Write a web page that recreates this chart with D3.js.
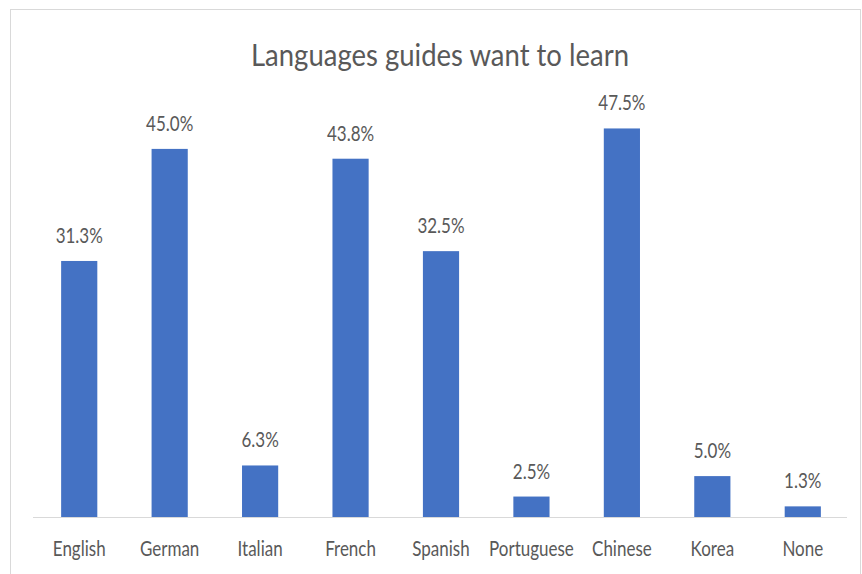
<!DOCTYPE html>
<html>
<head>
<meta charset="utf-8">
<script src="https://cdn.jsdelivr.net/npm/d3@7"></script>
<style>
  body { margin: 0; background: #fff; }
  text { font-family: Lato, "Open Sans", sans-serif; fill: #595959; }
</style>
</head>
<body>
<svg id="chart"></svg>
<script>
const languages = ['English', 'German', 'Italian', 'French', 'Spanish', 'Portuguese', 'Chinese', 'Korea', 'None'];
const shares = [31.3, 45.0, 6.3, 43.8, 32.5, 2.5, 47.5, 5.0, 1.3];
const valueLabels = ['31.3%', '45.0%', '6.3%', '43.8%', '32.5%', '2.5%', '47.5%', '5.0%', '1.3%'];

const W = 862, H = 574;
const data = languages.map((d, i) => ({ name: d, value: shares[i], label: valueLabels[i] }));

const svg = d3.select('#chart')
  .attr('width', W)
  .attr('height', H);

// chart frame
svg.append('rect')
  .attr('x', 10.5).attr('y', 9.5)
  .attr('width', 850).attr('height', 600)
  .attr('fill', '#fff')
  .attr('stroke', '#d9d9d9');

const x = d3.scaleBand()
  .domain(languages)
  .range([34, 848])
  .paddingInner(0.6)
  .paddingOuter(0.3);

const y = d3.scaleLinear()
  .domain([0, 50])
  .range([517, 108]);

// title
svg.append('text')
  .attr('transform', `translate(440, 66) scale(1, 1.15)`)
  .attr('text-anchor', 'middle')
  .style('font-size', '27.5px')
  .text('Languages guides want to learn');

svg.selectAll('.bar')
  .data(data)
  .enter()
  .append('rect')
  .attr('class', 'bar')
  .attr('x', d => x(d.name))
  .attr('y', d => y(d.value))
  .attr('width', x.bandwidth())
  .attr('height', d => y(0) - y(d.value))
  .attr('fill', '#4472c4');

// baseline
svg.append('line')
  .attr('x1', 33).attr('x2', 847)
  .attr('y1', y(0) + 0.5).attr('y2', y(0) + 0.5)
  .attr('stroke', '#d9d9d9');

svg.selectAll('.val')
  .data(data)
  .enter()
  .append('text')
  .attr('class', 'val')
  .attr('transform', d => `translate(${x(d.name) + x.bandwidth() / 2}, ${y(d.value) - 18}) scale(1, 1.2)`)
  .attr('text-anchor', 'middle')
  .style('font-size', '17px')
  .text(d => d.label);

svg.selectAll('.cat')
  .data(data)
  .enter()
  .append('text')
  .attr('class', 'cat')
  .attr('transform', d => `translate(${x(d.name) + x.bandwidth() / 2}, 556) scale(1, 1.2)`)
  .attr('text-anchor', 'middle')
  .style('font-size', '17px')
  .text(d => d.name);
</script>
</body>
</html>
